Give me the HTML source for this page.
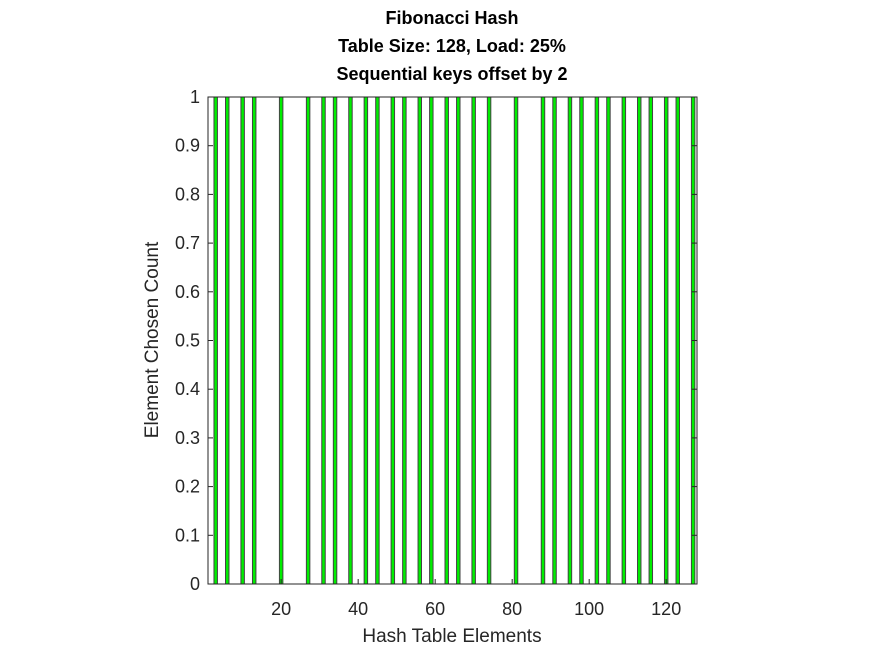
<!DOCTYPE html>
<html><head><meta charset="utf-8"><style>
body{margin:0;background:#fff;}
svg{font-family:"Liberation Sans",Arial,sans-serif;}
</style></head><body>
<svg width="875" height="656">
<g id="plot"></g>
<text x="452" y="24" text-anchor="middle" font-size="18" font-weight="bold">Fibonacci Hash</text>
<text x="452" y="52" text-anchor="middle" font-size="18" font-weight="bold">Table Size: 128, Load: 25%</text>
<text x="452" y="80" text-anchor="middle" font-size="18" font-weight="bold">Sequential keys offset by 2</text>
<text x="452" y="642" text-anchor="middle" font-size="19" fill="#262626">Hash Table Elements</text>
<text transform="translate(158,340) rotate(-90)" text-anchor="middle" font-size="19" fill="#262626">Element Chosen Count</text>
</svg>
<script>
const positions=[3,6,10,13,20,27,31,34,38,42,45,49,52,56,59,63,66,70,74,81,88,91,95,98,102,105,109,113,116,120,123,127];
const counts=[1,1,1,1,1,1,1,1,1,1,1,1,1,1,1,1,1,1,1,1,1,1,1,1,1,1,1,1,1,1,1,1];
const xTicks=[20,40,60,80,100,120];
const yTicks=[0,0.1,0.2,0.3,0.4,0.5,0.6,0.7,0.8,0.9,1];
const L=208,R=697,T=97,B=584;
const xMin=1,xMax=128;
function xs(v){return L+(v-xMin)/(xMax-xMin)*(R-L);}
function ys(v){return B-v*(B-T);}
const NS="http://www.w3.org/2000/svg";
const g=document.getElementById('plot');
function mk(t,a){const e=document.createElementNS(NS,t);for(const k in a)e.setAttribute(k,a[k]);g.appendChild(e);return e;}
const bw=(R-L)/(xMax-xMin)*0.9;
positions.forEach((p,i)=>{
 const r=mk('rect',{x:xs(p)-bw/2,y:ys(counts[i]),width:bw,height:B-ys(counts[i]),fill:'#00ee00',stroke:'#444','stroke-width':1});
 
 
});
const ax=mk('rect',{x:L,y:T,width:R-L,height:B-T,fill:'none',stroke:'#262626','stroke-width':1});


xTicks.forEach(t=>{
 mk('line',{x1:xs(t),x2:xs(t),y1:B,y2:B-5,stroke:'#262626'});
 const tx=mk('text',{x:xs(t),y:B+31,'text-anchor':'middle','font-size':'18',fill:'#262626'});
 tx.textContent=t;
 
 
});
yTicks.forEach(t=>{
 mk('line',{x1:L,x2:L+5,y1:ys(t),y2:ys(t),stroke:'#262626'});
 mk('line',{x1:R,x2:R-5,y1:ys(t),y2:ys(t),stroke:'#262626'});
 const tx=mk('text',{x:L-8,y:ys(t)+6,'text-anchor':'end','font-size':'18',fill:'#262626'});
 tx.textContent=t;
 
 
});
</script>
</body></html>
